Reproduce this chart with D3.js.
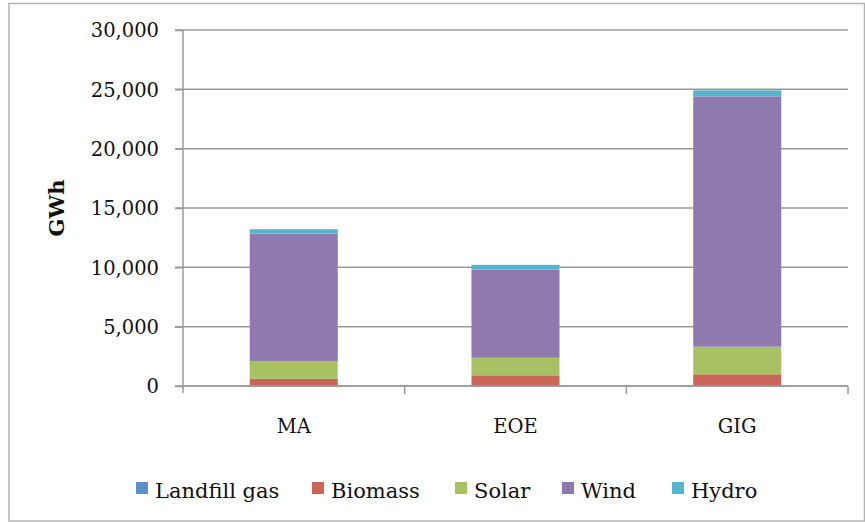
<!DOCTYPE html>
<html>
<head>
<meta charset="utf-8">
<script src="https://cdn.jsdelivr.net/npm/d3@7"></script>
<style>
  body { margin: 0; background: #fff; }
  svg { display: block; }
  text { font-family: "DejaVu Serif", serif; fill: #111; }
</style>
</head>
<body>
<div class="container"></div>
<script>
const WIDTH = 865;
const HEIGHT = 523;

// chart values (GWh)
var categories = ["MA", "EOE", "GIG"];
var seriesNames = ["Landfill gas", "Biomass", "Solar", "Wind", "Hydro"];
var seriesColors = ["#5b8fc9", "#cb6557", "#a9c165", "#8f7aaf", "#56b4cc"];
var landfill = [10, 10, 10];
var biomass = [600, 890, 975];
var solar = [1500, 1480, 2325];
var wind = [10740, 7440, 21100];
var hydro = [365, 390, 505];
var yTicks = [0, 5000, 10000, 15000, 20000, 25000, 30000];

var margin = {left: 183, right: 17, top: 30, bottom: 137};

var load = function(){
    var svg = d3.select(".container")
        .append("svg")
        .attr("width", WIDTH)
        .attr("height", HEIGHT);

    // outer chart border
    svg.append("rect")
        .attr("x", 9).attr("y", 3.5)
        .attr("width", WIDTH - 9.5).attr("height", 517.5)
        .attr("fill", "none")
        .attr("stroke", "#b3b3b3")
        .attr("stroke-width", 1.5);

    var x = d3.scaleBand()
        .domain(categories)
        .range([margin.left, WIDTH - margin.right])
        .paddingInner(0.603)
        .paddingOuter(0.301);

    var y = d3.scaleLinear()
        .domain([0, 30000])
        .range([HEIGHT - margin.bottom, margin.top]);

    // gridlines
    svg.append("g")
        .selectAll("line")
        .data(yTicks)
        .enter()
        .append("line")
        .attr("x1", margin.left - 8)
        .attr("x2", WIDTH - margin.right)
        .attr("y1", function(d){ return y(d); })
        .attr("y2", function(d){ return y(d); })
        .attr("stroke", "#9a9a9a")
        .attr("stroke-width", 1.5);

    // stacked bars
    var rows = categories.map(function(c, i){
        return {cat: c, "Landfill gas": landfill[i], "Biomass": biomass[i],
                "Solar": solar[i], "Wind": wind[i], "Hydro": hydro[i]};
    });
    var stacked = d3.stack().keys(seriesNames)(rows);

    svg.append("g")
        .selectAll("g")
        .data(stacked)
        .enter()
        .append("g")
        .attr("fill", function(d, i){ return seriesColors[i]; })
        .selectAll("rect")
        .data(function(d){ return d; })
        .enter()
        .append("rect")
        .attr("x", function(d){ return x(d.data.cat); })
        .attr("width", x.bandwidth())
        .attr("y", function(d){ return y(d[1]); })
        .attr("height", function(d){ return y(d[0]) - y(d[1]); });

    // y axis
    var yAxis = svg.append("g")
        .attr("transform", "translate(" + margin.left + ",0)")
        .call(d3.axisLeft(y)
            .tickValues(yTicks)
            .tickSize(8)
            .tickPadding(16)
            .tickFormat(d3.format(",")));
    yAxis.select(".domain").attr("stroke", "#9a9a9a").attr("stroke-width", 1.5)
        .attr("d", "M0," + y(30000) + "V" + (y(0) + 7));
    yAxis.selectAll(".tick line").attr("stroke", "#9a9a9a").attr("stroke-width", 1.5);
    yAxis.selectAll("text").style("font-size", "19.5px").attr("dy", "0.35em");

    // x axis
    var xAxis = svg.append("g")
        .attr("transform", "translate(0," + y(0) + ")");
    xAxis.append("line")
        .attr("x1", margin.left).attr("x2", WIDTH - margin.right)
        .attr("stroke", "#9a9a9a").attr("stroke-width", 1.5);
    var bounds = categories.map(function(c){ return x(c) - x.step() * x.paddingInner() / 2; });
    bounds.push(WIDTH - margin.right);
    xAxis.selectAll(".sep")
        .data(bounds.slice(1))
        .enter()
        .append("line")
        .attr("x1", function(d){ return d; })
        .attr("x2", function(d){ return d; })
        .attr("y1", 0).attr("y2", 8)
        .attr("stroke", "#9a9a9a").attr("stroke-width", 1.5);
    xAxis.selectAll("text")
        .data(categories)
        .enter()
        .append("text")
        .attr("x", function(d){ return x(d) + x.bandwidth() / 2; })
        .attr("y", 47)
        .attr("text-anchor", "middle")
        .style("font-size", "19.5px")
        .text(function(d){ return d; });

    // y axis title
    svg.append("text")
        .attr("transform", "translate(64," + (y(15000)) + ") rotate(-90)")
        .attr("text-anchor", "middle")
        .style("font-size", "21px")
        .style("font-weight", "bold")
        .text("GWh");

    // legend
    var legendX = [136, 312, 455, 562, 672];
    var legend = svg.append("g")
        .selectAll("g")
        .data(seriesNames)
        .enter()
        .append("g")
        .attr("transform", function(d, i){ return "translate(" + legendX[i] + ",482)"; });
    legend.append("rect")
        .attr("width", 12).attr("height", 12)
        .attr("fill", function(d, i){ return seriesColors[i]; });
    legend.append("text")
        .attr("x", 19)
        .attr("y", 16)
        .style("font-size", "21px")
        .text(function(d){ return d; });
};

window.onload = load;
</script>
</body>
</html>
